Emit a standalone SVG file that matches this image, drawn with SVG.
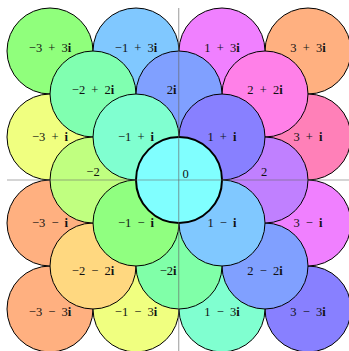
<svg xmlns="http://www.w3.org/2000/svg" width="349" height="351" viewBox="0 0 349 351">
<style>
.c{stroke:#000;stroke-width:1}
.z{stroke:#000;stroke-width:2}
text{font-family:"Liberation Serif","Times New Roman",serif;font-size:12.5px;fill:#111;text-anchor:middle;word-spacing:3px}
.b{font-weight:bold}
.ax{stroke:#666;stroke-opacity:0.55;stroke-width:1.2;fill:none}
</style>
<rect width="349" height="351" fill="#fff"/>
<g id="n-3p3i"><circle class="c" cx="50" cy="51" r="43" fill="#90FF7C"/><text x="50" y="51.5">−3 + 3<tspan class="b">i</tspan></text></g>
<g id="n3p3i"><circle class="c" cx="308" cy="51" r="43" fill="#FFB080"/><text x="308" y="51.5">3 + 3<tspan class="b">i</tspan></text></g>
<g id="n-3m3i"><circle class="c" cx="50" cy="309" r="43" fill="#FFB080"/><text x="50" y="315.7">−3 − 3<tspan class="b">i</tspan></text></g>
<g id="n3m3i"><circle class="c" cx="308" cy="309" r="43" fill="#8880FF"/><text x="308" y="315.7">3 − 3<tspan class="b">i</tspan></text></g>
<g id="n-1p3i"><circle class="c" cx="136" cy="51" r="43" fill="#80C8FF"/><text x="136" y="51.5">−1 + 3<tspan class="b">i</tspan></text></g>
<g id="n1p3i"><circle class="c" cx="222" cy="51" r="43" fill="#F080FF"/><text x="222" y="51.5">1 + 3<tspan class="b">i</tspan></text></g>
<g id="n-3p1i"><circle class="c" cx="50" cy="137" r="43" fill="#F0FF80"/><text x="50" y="140.7">−3 + <tspan class="b">i</tspan></text></g>
<g id="n3p1i"><circle class="c" cx="308" cy="137" r="43" fill="#FF80B8"/><text x="308" y="140.7">3 + <tspan class="b">i</tspan></text></g>
<g id="n-3m1i"><circle class="c" cx="50" cy="223" r="43" fill="#FFB080"/><text x="50" y="227">−3 − <tspan class="b">i</tspan></text></g>
<g id="n3m1i"><circle class="c" cx="308" cy="223" r="43" fill="#F080FF"/><text x="308" y="227">3 − <tspan class="b">i</tspan></text></g>
<g id="n-1m3i"><circle class="c" cx="136" cy="309" r="43" fill="#F0FF80"/><text x="136" y="315.7">−1 − 3<tspan class="b">i</tspan></text></g>
<g id="n1m3i"><circle class="c" cx="222" cy="309" r="43" fill="#80FFD0"/><text x="222" y="315.7">1 − 3<tspan class="b">i</tspan></text></g>
<g id="n-2p2i"><circle class="c" cx="93" cy="94" r="43" fill="#80FFB0"/><text x="93" y="94">−2 + 2<tspan class="b">i</tspan></text></g>
<g id="n2p2i"><circle class="c" cx="265" cy="94" r="43" fill="#FF80E8"/><text x="265" y="94">2 + 2<tspan class="b">i</tspan></text></g>
<g id="n-2m2i"><circle class="c" cx="93" cy="266" r="43" fill="#FFD880"/><text x="93" y="274.7">−2 − 2<tspan class="b">i</tspan></text></g>
<g id="n2m2i"><circle class="c" cx="265" cy="266" r="43" fill="#80A0FF"/><text x="265" y="274.7">2 − 2<tspan class="b">i</tspan></text></g>
<g id="n2i"><circle class="c" cx="179" cy="94" r="43" fill="#80A0FF"/><text x="176.5" y="94" style="text-anchor:end">2<tspan class="b">i</tspan></text></g>
<g id="n-2"><circle class="c" cx="93" cy="180" r="43" fill="#C0FF80"/><text x="93" y="176">−2</text></g>
<g id="n2"><circle class="c" cx="265" cy="180" r="43" fill="#C080FF"/><text x="264" y="176">2</text></g>
<g id="n-2i"><circle class="c" cx="179" cy="266" r="43" fill="#80FFA8"/><text x="176.5" y="274.7" style="text-anchor:end">−2<tspan class="b">i</tspan></text></g>
<g id="n-1p1i"><circle class="c" cx="136" cy="137" r="43" fill="#80FFD0"/><text x="136" y="140.7">−1 + <tspan class="b">i</tspan></text></g>
<g id="n1p1i"><circle class="c" cx="222" cy="137" r="43" fill="#8880FF"/><text x="222" y="140.7">1 + <tspan class="b">i</tspan></text></g>
<g id="n-1m1i"><circle class="c" cx="136" cy="223" r="43" fill="#90FF80"/><text x="136" y="227">−1 − <tspan class="b">i</tspan></text></g>
<g id="n1m1i"><circle class="c" cx="222" cy="223" r="43" fill="#80C8FF"/><text x="222" y="227">1 − <tspan class="b">i</tspan></text></g>
<g id="n0"><circle class="z" cx="179" cy="180" r="43" fill="#80FFFF"/><text x="185.7" y="178">0</text></g>
<g id="axes">
<line class="ax" x1="7" y1="180" x2="349" y2="180"/>
<line class="ax" x1="178.7" y1="8" x2="178.7" y2="351"/>
</g>
</svg>
